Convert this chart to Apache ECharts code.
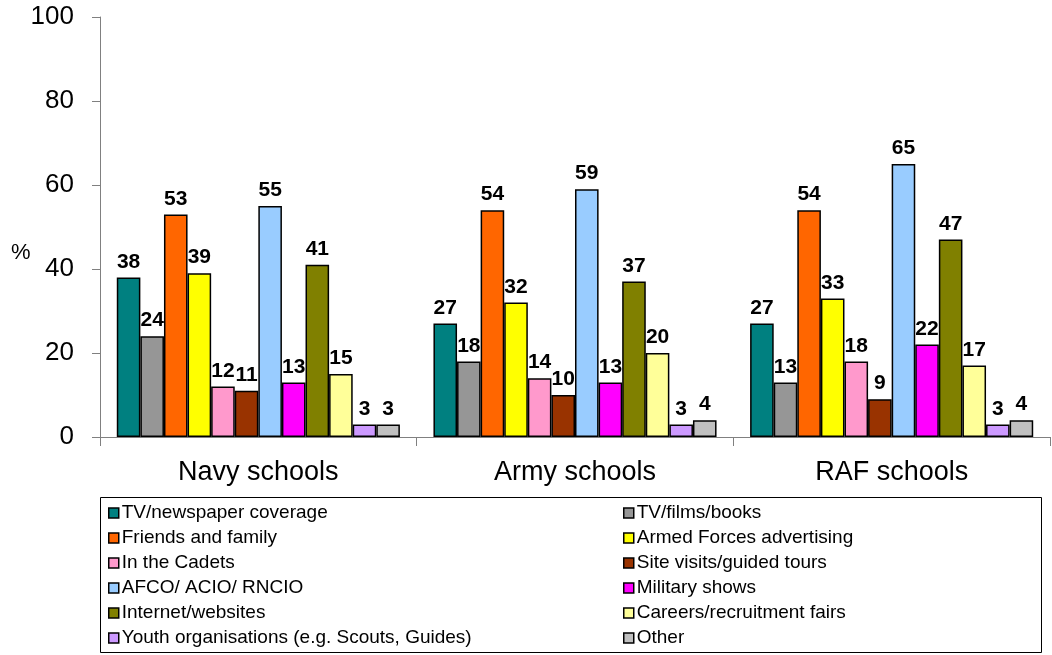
<!DOCTYPE html>
<html>
<head>
<meta charset="utf-8">
<script src="https://cdn.jsdelivr.net/npm/echarts@6/dist/echarts.min.js"></script>
<style>
  html, body { margin: 0; padding: 0; background: #fff; }
  #chart { width: 1052px; height: 655px; }
</style>
</head>
<body>
<div id="chart"></div>
<script>
// School groups along the x axis
const categories = ['Navy schools', 'Army schools', 'RAF schools'];

// Sources of information (one series each)
const sourceNames = [
  'TV/newspaper coverage', 'TV/films/books',
  'Friends and family', 'Armed Forces advertising',
  'In the Cadets', 'Site visits/guided tours',
  'AFCO/ ACIO/ RNCIO', 'Military shows',
  'Internet/websites', 'Careers/recruitment fairs',
  'Youth organisations (e.g. Scouts, Guides)', 'Other'
];

// Percentages per school group, in the order of sourceNames
const navyValues = [38, 24, 53, 39, 12, 11, 55, 13, 41, 15, 3, 3];
const armyValues = [27, 18, 54, 32, 14, 10, 59, 13, 37, 20, 3, 4];
const rafValues  = [27, 13, 54, 33, 18, 9, 65, 22, 47, 17, 3, 4];

// Y axis ticks
const yTicks = [0, 20, 40, 60, 80, 100];

const colors = [
  '#008080', '#969696', '#FF6600', '#FFFF00', '#FF99CC', '#993300',
  '#99CCFF', '#FF00FF', '#808000', '#FFFF99', '#CC99FF', '#C0C0C0'
];

const FONT = 'Arial, "Liberation Sans", sans-serif';

const series = sourceNames.map((name, i) => ({
  name: name,
  type: 'bar',
  data: [navyValues[i], armyValues[i], rafValues[i]],
  barGap: '0%',
  barCategoryGap: '10.6%',
  itemStyle: { color: colors[i], borderColor: '#000', borderWidth: 1.5 },
  label: {
    show: true,
    position: 'top',
    distance: 5,
    color: '#000',
    fontFamily: FONT,
    fontWeight: 'bold',
    fontSize: 21
  },
  emphasis: { disabled: true }
}));

// Two legend columns: left holds even-indexed entries, right holds odd-indexed
const leftLegend = sourceNames.filter((_, i) => i % 2 === 0);
const rightLegend = sourceNames.filter((_, i) => i % 2 === 1);

const legendCommon = {
  orient: 'vertical',
  icon: 'rect',
  itemWidth: 10,
  itemHeight: 10,
  itemGap: 5,
  selectedMode: false,
  itemStyle: { borderColor: '#000', borderWidth: 1.5 },
  textStyle: { fontFamily: FONT, fontSize: 19, color: '#000', lineHeight: 20, padding: [0, 0, 0, -2] },
  padding: 0
};

const chart = echarts.init(document.getElementById('chart'), null, { renderer: 'canvas' });
chart.setOption({
  backgroundColor: '#fff',
  animation: false,
  color: colors,
  grid: { left: 100, right: 2, top: 17, bottom: 218, containLabel: false },
  xAxis: {
    type: 'category',
    data: categories,
    axisLine: { lineStyle: { color: '#808080', width: 1 } },
    axisTick: { show: true, alignWithLabel: false, length: 9, lineStyle: { color: '#808080' } },
    axisLabel: { fontFamily: FONT, fontSize: 27, color: '#000', margin: 22 }
  },
  yAxis: {
    type: 'value',
    min: yTicks[0],
    max: yTicks[yTicks.length - 1],
    interval: yTicks[1] - yTicks[0],
    splitLine: { show: false },
    axisLine: { show: true, lineStyle: { color: '#808080', width: 1 } },
    axisTick: { show: true, length: 8, lineStyle: { color: '#808080' } },
    axisLabel: { fontFamily: FONT, fontSize: 26, color: '#000', margin: 26 }
  },
  legend: [
    Object.assign({ left: 108, top: 503, data: leftLegend }, legendCommon),
    Object.assign({ left: 623, top: 503, data: rightLegend }, legendCommon)
  ],
  graphic: [
    {
      type: 'rect',
      shape: { x: 100.5, y: 497.5, width: 941, height: 155 },
      style: { fill: 'none', stroke: '#000', lineWidth: 1 },
      silent: true
    },
    {
      type: 'text',
      left: 11,
      top: 242,
      style: { text: '%', fontFamily: FONT, fontSize: 22, fill: '#000' },
      silent: true
    }
  ],
  series: series
});
</script>
</body>
</html>
